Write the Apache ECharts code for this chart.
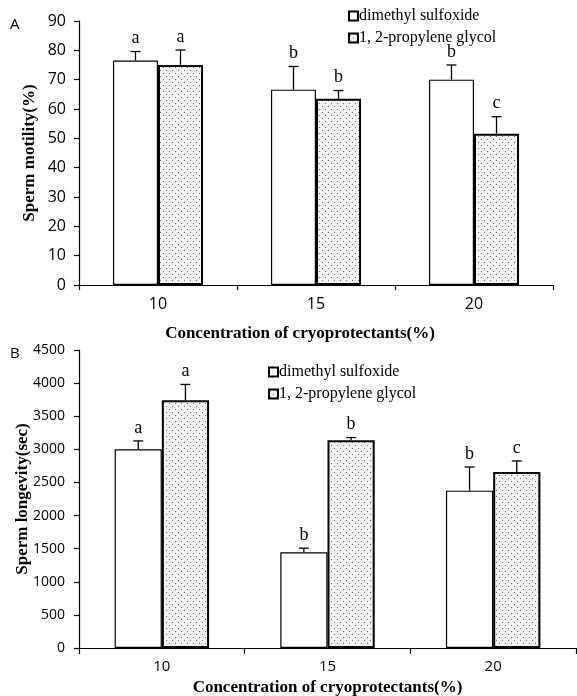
<!DOCTYPE html>
<html>
<head>
<meta charset="utf-8">
<script src="https://cdn.jsdelivr.net/npm/echarts@6/dist/echarts.min.js"></script>
<style>html,body{margin:0;padding:0;background:#fff}#c{width:577px;height:696px}</style>
</head>
<body>
<div id="c"></div>
<script>
// ---- data ----
var categories = ['10', '15', '20'];
var seriesNames = ['dimethyl sulfoxide', '1, 2-propylene glycol'];
// Panel A: sperm motility (%)
var motilityDMSO = [76.5, 66.6, 70.0];
var motilityDMSOErr = [3.1, 7.9, 5.0];
var motilityPG = [75.0, 63.5, 51.6];
var motilityPGErr = [5.1, 2.8, 5.8];
var motilityLettersDMSO = ['a', 'b', 'b'];
var motilityLettersPG = ['a', 'b', 'c'];
// Panel B: sperm longevity (sec)
var longevityDMSO = [3000, 1447, 2376];
var longevityDMSOErr = [127, 60, 357];
var longevityPG = [3743, 3138, 2658];
var longevityPGErr = [237, 40, 166];
var longevityLettersDMSO = ['a', 'b', 'b'];
var longevityLettersPG = ['a', 'b', 'c'];
var motilityTicks = {min: 0, max: 90, interval: 10};
var longevityTicks = {min: 0, max: 4500, interval: 500};

// ---- styles ----
var GAP = 0.43;
var serif = '"Liberation Serif", "Times New Roman", serif';
var sans = '"Open Sans", "Noto Sans", sans-serif';
function dotPattern() {
  var c = document.createElement('canvas');
  c.width = 6; c.height = 6;
  var g = c.getContext('2d');
  g.fillStyle = '#f2f2f2';
  g.fillRect(0, 0, 6, 6);
  g.fillStyle = '#707070';
  g.fillRect(1, 1, 1, 1);
  g.fillRect(4, 4, 1, 1);
  return c;
}
var pattern = {image: dotPattern(), repeat: 'repeat'};

function errData(vals, errs, k) {
  return vals.map(function (v, i) { return [i, v, errs[i], k]; });
}

function makeErrSeries(xi, yi, dm, dmErr, pg, pgErr, lDm, lPg) {
  var data = errData(dm, dmErr, 0).concat(errData(pg, pgErr, 1));
  var letters = lDm.concat(lPg);
  return {
    type: 'custom',
    xAxisIndex: xi, yAxisIndex: yi,
    z: 10,
    silent: true,
    data: data,
    renderItem: function (params, api) {
      var idx = api.value(0), v = api.value(1), e = api.value(2), k = api.value(3);
      var base = api.coord([idx, v]);
      var top = api.coord([idx, v + e]);
      var bandW = api.size([1, 0])[0];
      var barW = bandW * (1 - GAP) / 2;
      var x = base[0] + (k === 0 ? -barW / 2 : barW / 2);
      var cap = 5;
      return {
        type: 'group',
        children: [
          {type: 'line', shape: {x1: x, y1: base[1], x2: x, y2: top[1]}, style: {stroke: '#000', lineWidth: 1.3}},
          {type: 'line', shape: {x1: x - cap, y1: top[1], x2: x + cap, y2: top[1]}, style: {stroke: '#000', lineWidth: 1.3}},
          {type: 'text', x: x, y: top[1] - 13, style: {text: letters[params.dataIndex], fill: '#000', font: '18px ' + serif, align: 'center', verticalAlign: 'middle'}}
        ]
      };
    }
  };
}

function barSeries(name, data, xi, yi, k) {
  return {
    name: name, type: 'bar', xAxisIndex: xi, yAxisIndex: yi,
    data: data,
    barGap: '0%', barCategoryGap: (GAP * 100) + '%',
    itemStyle: k === 0
      ? {color: '#fff', borderColor: '#000', borderWidth: 1.2}
      : {color: pattern, borderColor: '#000', borderWidth: 2},
    emphasis: {disabled: true}
  };
}

var axisLine = {show: true, lineStyle: {color: '#000', width: 1.2}};
var tickStyle = {show: true, inside: false, length: 5, lineStyle: {color: '#000', width: 1.2}};
var titleStyle = {color: '#000', fontFamily: serif, fontSize: 17, fontWeight: 'bold'};
var plain = function (v) { return String(v); };
var legendText = {color: '#000', fontFamily: serif, fontSize: 16, padding: [0, 0, 0, -4]};

var chart = echarts.init(document.getElementById('c'));
chart.setOption({
  animation: false,
  backgroundColor: '#fff',
  grid: [
    {left: 79, right: 24, top: 21, height: 264, outerBoundsMode: 'none'},
    {left: 79, right: 1, top: 350, bottom: 48, outerBoundsMode: 'none'}
  ],
  legend: [
    {data: seriesNames, orient: 'vertical', left: 348, top: 8, padding: 0, itemWidth: 9, itemHeight: 9, itemGap: 6, icon: 'rect',
     textStyle: legendText, selectedMode: false},
    {data: seriesNames, orient: 'vertical', left: 268, top: 364, padding: 0, itemWidth: 9, itemHeight: 9, itemGap: 6, icon: 'rect',
     textStyle: legendText, selectedMode: false}
  ],
  xAxis: [
    {type: 'category', gridIndex: 0, data: categories, axisLine: axisLine, axisTick: tickStyle,
     axisLabel: {margin: 11, color: '#000', fontFamily: sans, fontSize: 16},
     name: 'Concentration of cryoprotectants(%)', nameLocation: 'middle', nameGap: 40, nameMoveOverlap: false,
     nameTextStyle: Object.assign({padding: [0, 32, 0, 0]}, titleStyle)},
    {type: 'category', gridIndex: 1, data: categories, axisLine: axisLine, axisTick: Object.assign({}, tickStyle, {length: 6}),
     axisLabel: {margin: 11, color: '#000', fontFamily: sans, fontSize: 15},
     name: 'Concentration of cryoprotectants(%)', nameLocation: 'middle', nameGap: 31, nameMoveOverlap: false,
     nameTextStyle: titleStyle}
  ],
  yAxis: [
    {type: 'value', gridIndex: 0, min: motilityTicks.min, max: motilityTicks.max, interval: motilityTicks.interval,
     axisLine: axisLine, axisTick: tickStyle, splitLine: {show: false},
     axisLabel: {margin: 13, formatter: plain, color: '#000', fontFamily: sans, fontSize: 16},
     name: 'Sperm motility(%)', nameLocation: 'middle', nameGap: 41, nameMoveOverlap: false, nameTextStyle: titleStyle},
    {type: 'value', gridIndex: 1, min: longevityTicks.min, max: longevityTicks.max, interval: longevityTicks.interval,
     axisLine: axisLine, axisTick: tickStyle, splitLine: {show: false},
     axisLabel: {margin: 14, formatter: plain, color: '#000', fontFamily: sans, fontSize: 14},
     name: 'Sperm longevity(sec)', nameLocation: 'middle', nameGap: 48, nameMoveOverlap: false, nameTextStyle: titleStyle}
  ],
  graphic: [
    {type: 'text', left: 10, top: 17, style: {text: 'A', fill: '#000', font: '15px ' + sans}},
    {type: 'text', left: 10, top: 346, style: {text: 'B', fill: '#000', font: '15px ' + sans}}
  ],
  series: [
    barSeries(seriesNames[0], motilityDMSO, 0, 0, 0),
    barSeries(seriesNames[1], motilityPG, 0, 0, 1),
    barSeries(seriesNames[0], longevityDMSO, 1, 1, 0),
    barSeries(seriesNames[1], longevityPG, 1, 1, 1),
    makeErrSeries(0, 0, motilityDMSO, motilityDMSOErr, motilityPG, motilityPGErr, motilityLettersDMSO, motilityLettersPG),
    makeErrSeries(1, 1, longevityDMSO, longevityDMSOErr, longevityPG, longevityPGErr, longevityLettersDMSO, longevityLettersPG)
  ]
});
</script>
</body>
</html>
